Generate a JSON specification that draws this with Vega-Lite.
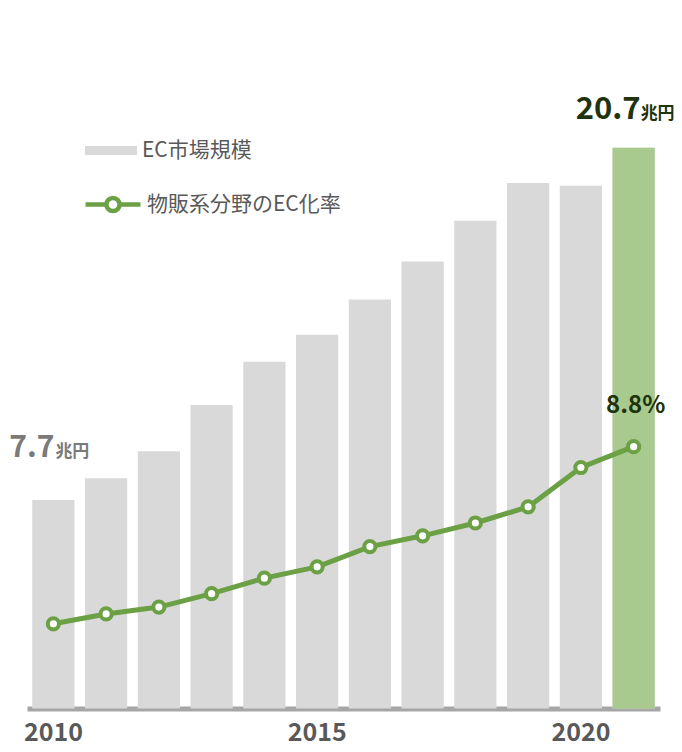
{
  "$schema": "https://vega.github.io/schema/vega-lite/v6.json",
  "width": 633,
  "height": 680,
  "autosize": "none",
  "padding": {"left": 27, "top": 28.5, "right": 22, "bottom": 43.5},
  "background": "white",
  "config": {"view": {"stroke": null}, "font": "Noto Sans CJK JP"},
  "data": {
    "values": [
      {"year": 2010, "ec": 7.7, "rate": 2.84},
      {"year": 2011, "ec": 8.5, "rate": 3.17},
      {"year": 2012, "ec": 9.5, "rate": 3.40},
      {"year": 2013, "ec": 11.2, "rate": 3.85},
      {"year": 2014, "ec": 12.8, "rate": 4.37},
      {"year": 2015, "ec": 13.8, "rate": 4.75},
      {"year": 2016, "ec": 15.1, "rate": 5.43},
      {"year": 2017, "ec": 16.5, "rate": 5.79},
      {"year": 2018, "ec": 18.0, "rate": 6.22},
      {"year": 2019, "ec": 19.4, "rate": 6.76},
      {"year": 2020, "ec": 19.3, "rate": 8.08},
      {"year": 2021, "ec": 20.7, "rate": 8.78}
    ]
  },
  "encoding": {
    "x": {
      "field": "year",
      "type": "ordinal",
      "scale": {"paddingInner": 0.2, "paddingOuter": 0.1},
      "axis": {
        "values": [2010, 2015, 2020],
        "title": null,
        "labelAngle": 0,
        "ticks": false,
        "grid": false,
        "domainColor": "#a6a6a6",
        "domainWidth": 5,
        "labelFontSize": 25,
        "labelFontWeight": "bold",
        "labelColor": "#595959",
        "labelPadding": 12,
        "labelFont": "Noto Sans CJK JP"
      }
    }
  },
  "layer": [
    {
      "mark": {"type": "bar"},
      "encoding": {
        "y": {"field": "ec", "type": "quantitative", "scale": {"domain": [0, 25.1]}, "axis": null},
        "color": {
          "datum": "EC市場規模",
          "scale": {"range": ["#d9d9d9"]},
          "legend": {
            "orient": "none",
            "legendX": 58,
            "legendY": 96,
            "title": null,
            "padding": 0,
            "symbolType": "M-1,-0.173H1V0.173H-1Z",
            "symbolSize": 2704,
            "symbolStrokeWidth": 0,
            "labelFontSize": 21,
            "labelColor": "#595959",
            "labelOffset": 5,
            "labelLimit": 400,
            "labelFont": "Noto Sans CJK JP"
          }
        }
      }
    },
    {
      "transform": [{"filter": "datum.year == 2021"}],
      "mark": {"type": "bar", "color": "#a8ca8f"},
      "encoding": {
        "y": {"field": "ec", "type": "quantitative", "scale": {"domain": [0, 25.1]}, "axis": null}
      }
    },
    {
      "mark": {"type": "line", "strokeWidth": 5},
      "encoding": {
        "y": {"field": "rate", "type": "quantitative", "scale": {"domain": [0, 22.8]}, "axis": null},
        "stroke": {
          "datum": "物販系分野のEC化率",
          "scale": {"range": ["#6ca044"]},
          "legend": {
            "orient": "none",
            "legendX": 56,
            "legendY": 146,
            "title": null,
            "padding": 0,
            "symbolType": "M-1,0H-0.24M0.24,0H1M0.24,0A0.24,0.24,0,1,1,-0.24,0A0.24,0.24,0,1,1,0.24,0",
            "symbolSize": 3025,
            "symbolStrokeWidth": 4.5,
            "symbolFillColor": "white",
            "labelFontSize": 21,
            "labelColor": "#595959",
            "labelOffset": 4,
            "labelLimit": 400,
            "labelFont": "Noto Sans CJK JP"
          }
        }
      }
    },
    {
      "mark": {"type": "point", "filled": true, "fill": "white", "stroke": "#6ca044", "strokeWidth": 4, "size": 125, "opacity": 1},
      "encoding": {
        "y": {"field": "rate", "type": "quantitative", "scale": {"domain": [0, 22.8]}, "axis": null}
      }
    },
    {
      "transform": [{"filter": "datum.year == 2010"}],
      "mark": {"type": "text", "align": "right", "baseline": "alphabetic", "dx": 1, "dy": -43, "fontSize": 30, "fontWeight": "bold", "color": "#7a7a7a"},
      "encoding": {
        "y": {"field": "ec", "type": "quantitative", "scale": {"domain": [0, 25.1]}, "axis": null},
        "text": {"field": "ec", "type": "quantitative", "format": ".1f"}
      }
    },
    {
      "transform": [{"filter": "datum.year == 2010"}],
      "mark": {"type": "text", "align": "left", "baseline": "alphabetic", "dx": 2, "dy": -43, "fontSize": 17, "fontWeight": "bold", "color": "#7a7a7a"},
      "encoding": {
        "y": {"field": "ec", "type": "quantitative", "scale": {"domain": [0, 25.1]}, "axis": null},
        "text": {"value": "兆円"}
      }
    },
    {
      "transform": [{"filter": "datum.year == 2021"}],
      "mark": {"type": "text", "align": "right", "baseline": "alphabetic", "dx": 7, "dy": -29, "fontSize": 31, "fontWeight": "bold", "color": "#1f330d"},
      "encoding": {
        "y": {"field": "ec", "type": "quantitative", "scale": {"domain": [0, 25.1]}, "axis": null},
        "text": {"field": "ec", "type": "quantitative", "format": ".1f"}
      }
    },
    {
      "transform": [{"filter": "datum.year == 2021"}],
      "mark": {"type": "text", "align": "left", "baseline": "alphabetic", "dx": 7, "dy": -29, "fontSize": 17, "fontWeight": "bold", "color": "#1f330d"},
      "encoding": {
        "y": {"field": "ec", "type": "quantitative", "scale": {"domain": [0, 25.1]}, "axis": null},
        "text": {"value": "兆円"}
      }
    },
    {
      "transform": [
        {"filter": "datum.year == 2021"},
        {"calculate": "format(datum.rate, '.1f') + '%'", "as": "rateLabel"}
      ],
      "mark": {"type": "text", "align": "center", "baseline": "alphabetic", "dx": 2, "dy": -34, "fontSize": 24, "fontWeight": "bold", "color": "#1f330d"},
      "encoding": {
        "y": {"field": "rate", "type": "quantitative", "scale": {"domain": [0, 22.8]}, "axis": null},
        "text": {"field": "rateLabel", "type": "nominal"}
      }
    }
  ],
  "resolve": {"scale": {"y": "independent"}}
}
